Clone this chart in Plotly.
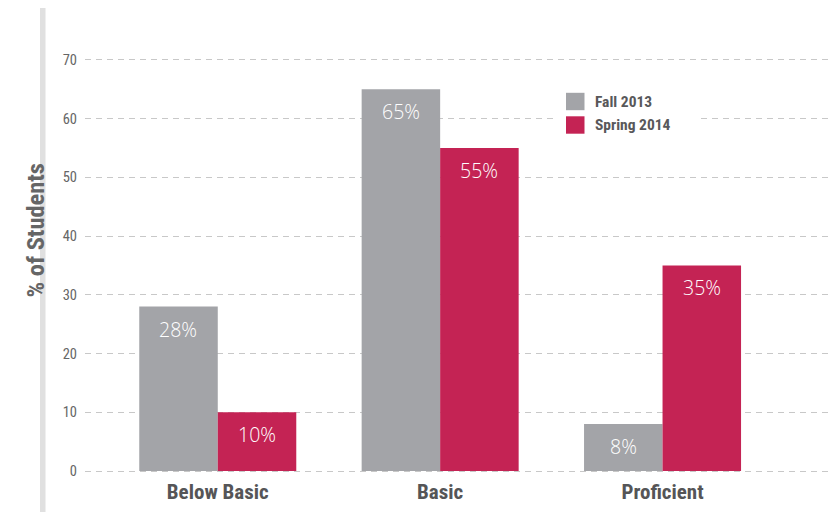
import plotly.graph_objects as go

categories = ["Below Basic", "Basic", "Proficient"]
series_names = ["Fall 2013", "Spring 2014"]
fall_2013 = [28, 65, 8]
spring_2014 = [10, 55, 35]
y_ticks = [0, 10, 20, 30, 40, 50, 60, 70]

GRAY = "#a3a4a8"
CRIMSON = "#c42354"
NARROW = "Liberation Sans Narrow, Roboto Condensed, Arial Narrow, Roboto, sans-serif"

W, H = 828, 512
L, R, T, B = 85, 0, 54, 38
pw, ph = W - L - R, H - T - B

def px_x(p):
    return (p - L) / pw

def px_y(p):
    return (H - B - p) / ph

fig = go.Figure()
fig.add_trace(go.Bar(x=categories, y=fall_2013, name=series_names[0],
                     marker=dict(color=GRAY, line=dict(width=0)), showlegend=False))
fig.add_trace(go.Bar(x=categories, y=spring_2014, name=series_names[1],
                     marker=dict(color=CRIMSON, line=dict(width=0)), showlegend=False))

annotations = []
for vals, shift in ((fall_2013, -39.3), (spring_2014, 39.3)):
    for c, v in zip(categories, vals):
        annotations.append(dict(x=c, y=v, xref="x", yref="y", text=f"{v}%",
                                showarrow=False, xshift=shift, yshift=-22.5,
                                font=dict(family="Open Sans, Lato, sans-serif", size=19.5,
                                          color="white", weight=300)))

# Y-axis title
annotations.append(dict(x=px_x(19), y=px_y(230), xref="paper", yref="paper",
                        text="% of Students", textangle=-90, showarrow=False,
                        font=dict(family=NARROW, size=24.5, color="#666666", weight="bold")))

# Legend
shapes = [
    dict(type="rect", xref="paper", yref="paper", x0=px_x(558), x1=px_x(698),
         y0=px_y(142), y1=px_y(88), fillcolor="white", line=dict(width=0), layer="above"),
    dict(type="rect", xref="paper", yref="paper", x0=px_x(40), x1=px_x(45.5),
         y0=px_y(512), y1=px_y(8), fillcolor="#e0e0e0", line=dict(width=0), layer="above"),
]
legend_items = [(series_names[0], GRAY, 101.5), (series_names[1], CRIMSON, 125)]
for name, col, yc in legend_items:
    shapes.append(dict(type="rect", xref="paper", yref="paper", x0=px_x(566), x1=px_x(584.5),
                       y0=px_y(yc + 8.7), y1=px_y(yc - 8.7), fillcolor=col,
                       line=dict(width=0), layer="above"))
    annotations.append(dict(x=px_x(593), y=px_y(yc), xref="paper", yref="paper",
                            text=name, showarrow=False, xanchor="left", yanchor="middle",
                            font=dict(family=NARROW, size=15.5, color="#58585a", weight="bold")))

fig.update_layout(
    width=W, height=H,
    margin=dict(l=L, r=R, t=T, b=B, pad=0),
    paper_bgcolor="white", plot_bgcolor="white",
    barmode="group", bargap=0.294, bargroupgap=0,
    annotations=annotations, shapes=shapes,
    xaxis=dict(range=[-0.597, 2.744], showgrid=False, zeroline=False, showline=False,
               ticks="", tickfont=dict(family=NARROW, size=21, color="#555557", weight="bold"),
               ticklabelstandoff=3),
    yaxis=dict(range=[-0.5, 71], tickvals=y_ticks, showgrid=True, gridcolor="#c8c8c8",
               griddash="6px,5px", gridwidth=1, zeroline=False, showline=False, ticks="",
               tickfont=dict(family=NARROW, size=14.5, color="#666666"), ticklabelstandoff=7),
)

fig.write_html("out.html", config={"displayModeBar": False},
               post_script="document.body.style.margin='0';")
